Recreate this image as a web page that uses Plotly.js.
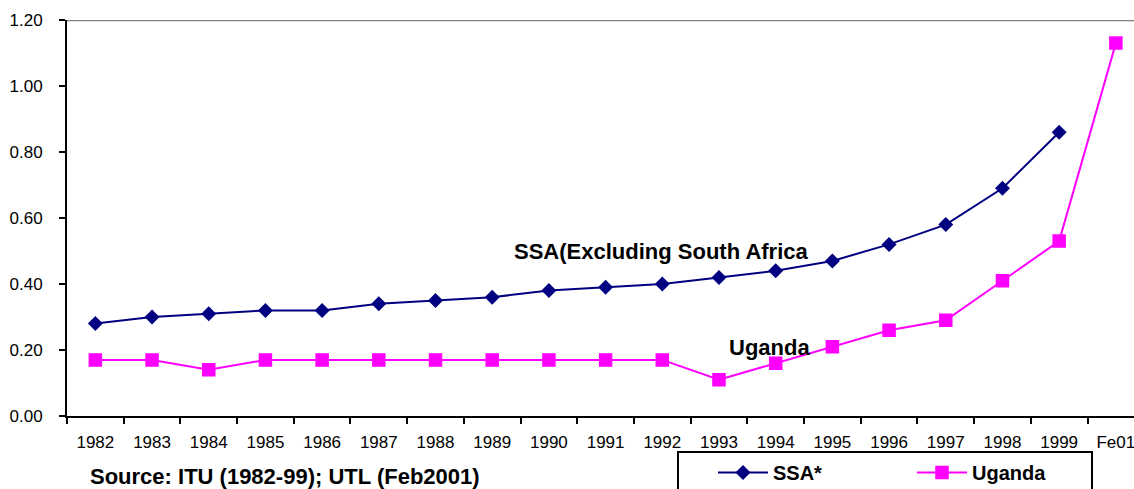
<!DOCTYPE html>
<html>
<head>
<meta charset="utf-8">
<script src="https://cdn.plot.ly/plotly-3.0.1.min.js"></script>
<style>html,body{margin:0;padding:0;background:#fff;}#chart{width:1134px;height:489px;}</style>
</head>
<body>
<div id="chart"></div>
<script>
const categories = ["1982","1983","1984","1985","1986","1987","1988","1989","1990","1991","1992","1993","1994","1995","1996","1997","1998","1999","Fe01"];
const ssaValues = [0.28,0.30,0.31,0.32,0.32,0.34,0.35,0.36,0.38,0.39,0.40,0.42,0.44,0.47,0.52,0.58,0.69,0.86,null];
const ugandaValues = [0.17,0.17,0.14,0.17,0.17,0.17,0.17,0.17,0.17,0.17,0.17,0.11,0.16,0.21,0.26,0.29,0.41,0.53,1.13];
const yTicks = [0,0.2,0.4,0.6,0.8,1.0,1.2];
const yTickLabels = ["0.00","0.20","0.40","0.60","0.80","1.00","1.20"];

const FONT = "Liberation Sans, Arial, sans-serif";

const traces = [
  {
    x: categories, y: ssaValues, name: "SSA*", type: "scatter", mode: "lines+markers",
    line: {color: "#000080", width: 2},
    marker: {symbol: "diamond", size: 11.5, color: "#000080"},
    connectgaps: false
  },
  {
    x: categories, y: ugandaValues, name: "Uganda", type: "scatter", mode: "lines+markers",
    line: {color: "#FF00FF", width: 2},
    marker: {symbol: "square", size: 12, color: "#FF00FF", line: {color: "#FF00FF", width: 1.5}}
  }
];

const layout = {
  width: 1134, height: 489,
  margin: {l: 67, r: 0, t: 20, b: 73, pad: 0, autoexpand: false},
  paper_bgcolor: "#fff", plot_bgcolor: "#fff",
  font: {family: FONT, size: 17, color: "#000"},
  showlegend: true,
  legend: {
    orientation: "h", xref: "container", yref: "container",
    x: 713 / 1134, y: (489 - 453) / 489, xanchor: "left", yanchor: "top",
    bgcolor: "rgba(0,0,0,0)", borderwidth: 0,
    font: {family: FONT, size: 20, color: "#000", weight: "bold"},
    entrywidth: 134, itemwidth: 50, tracegroupgap: 0
  },
  xaxis: {
    type: "category", range: [-0.5, 18.32], fixedrange: true,
    showline: true, linecolor: "#000", linewidth: 2,
    ticks: "outside", ticklen: 6, tickwidth: 2, tickcolor: "#000", tickson: "boundaries",
    showgrid: false, zeroline: false,
    tickfont: {family: FONT, size: 17, color: "#000"}, ticklabelstandoff: 10
  },
  yaxis: {
    range: [0, 1.2], fixedrange: true,
    tickvals: yTicks, ticktext: yTickLabels,
    showline: true, linecolor: "#000", linewidth: 2,
    ticks: "outside", ticklen: 6, tickwidth: 2, tickcolor: "#000",
    showgrid: false, zeroline: false,
    tickfont: {family: FONT, size: 17, color: "#000"}, ticklabelstandoff: 13
  },
  shapes: [
    {type: "line", xref: "paper", yref: "y", x0: 0, x1: 1, y0: 1.2, y1: 1.2,
     line: {color: "#808080", width: 2.5}},
    {type: "rect", xref: "paper", yref: "paper", x0: (678 - 67) / 1067, x1: (1092 - 67) / 1067,
     y0: (416 - 452) / 396, y1: (416 - 500) / 396, line: {color: "#000", width: 2}, fillcolor: "rgba(0,0,0,0)"}
  ],
  annotations: [
    {text: "<b>SSA(Excluding South Africa</b>", xref: "paper", yref: "y", x: 0.5576, y: 0.5,
     xanchor: "center", yanchor: "middle", showarrow: false, font: {family: FONT, size: 22, color: "#000"}},
    {text: "<b>Uganda</b>", xref: "paper", yref: "y", x: 0.658, y: 0.209,
     xanchor: "center", yanchor: "middle", showarrow: false, font: {family: FONT, size: 22, color: "#000"}},
    {text: "<b>Source: ITU (1982-99); UTL (Feb2001)</b>", xref: "paper", yref: "paper", x: 0.0197, y: -0.154,
     xanchor: "left", yanchor: "middle", showarrow: false, font: {family: FONT, size: 22, color: "#000"}}
  ]
};

Plotly.newPlot("chart", traces, layout, {displayModeBar: false, staticPlot: true});
</script>
</body>
</html>
